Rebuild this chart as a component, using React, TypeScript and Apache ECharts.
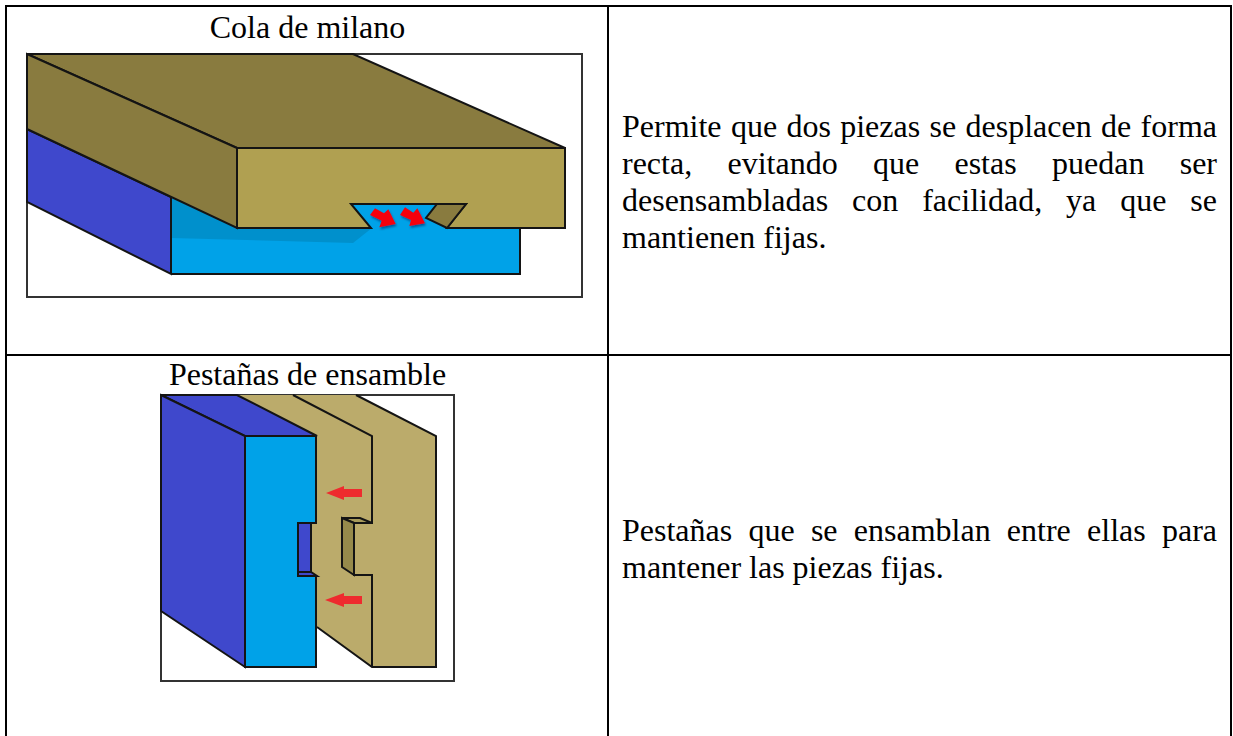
import React, { useEffect, useRef } from "react";
import * as echarts from "echarts";

const FONT = '"Liberation Serif", "Times New Roman", serif';
const FONT_SIZE = 32;
const CENTRAL = 10.8;

const titleTop = "Cola de milano";
const titleBottom = "Pestañas de ensamble";
const bodyTop = [
  "Permite que dos piezas se desplacen de forma",
  "recta, evitando que estas puedan ser",
  "desensambladas con facilidad, ya que se",
  "mantienen fijas.",
];
const bodyBottom = [
  "Pestañas que se ensamblan entre ellas para",
  "mantener las piezas fijas.",
];

type P = number[][];
const INK = "#141414";
const poly = (points: P, fill: string, stroke: string | null = INK, lineWidth = 2, extra: any = {}) => ({
  type: "polygon",
  shape: { points },
  style: { fill, stroke: stroke ?? "none", lineWidth: stroke ? lineWidth : 0, lineJoin: "miter", ...extra },
});
const pline = (points: P) => ({
  type: "polyline",
  shape: { points },
  style: { fill: "none", stroke: INK, lineWidth: 2 },
});
const bar = (x: number, y: number, width: number, height: number) => ({
  type: "rect",
  shape: { x, y, width, height },
  style: { fill: "#000" },
});
const text = (s: string, x: number, baseline: number, align = "left") => ({
  type: "text",
  x,
  y: baseline - CENTRAL,
  style: { text: s, x: 0, y: 0, fill: "#000", font: `${FONT_SIZE}px ${FONT}`, textAlign: align, textVerticalAlign: "middle" },
});

function justified(lines: string[], firstBaseline: number, step: number) {
  const ctx = document.createElement("canvas").getContext("2d")!;
  ctx.font = `${FONT_SIZE}px "Liberation Serif"`;
  const left = 622;
  const right = 1217;
  const out: any[] = [];
  lines.forEach((l, i) => {
    const y = firstBaseline + i * step;
    if (i === lines.length - 1) {
      out.push(text(l, left, y));
      return;
    }
    const words = l.split(" ");
    const widths = words.map((w) => ctx.measureText(w).width);
    const sum = widths.reduce((a, b) => a + b, 0);
    const gap = (right - left - sum) / (words.length - 1);
    let x = left;
    words.forEach((w, k) => {
      out.push(text(w, x, y));
      x += widths[k] + gap;
    });
  });
  return out;
}

function figureTop() {
  const DARK = "#897b3f";
  const LIGHT = "#b0a051";
  const BLUE = "#3f48cc";
  const CYAN = "#00a2e8";
  const shadow = { shadowBlur: 2, shadowColor: "rgba(0,0,60,0.45)", shadowOffsetX: 1, shadowOffsetY: 2 };
  const a = (pts: P) => pts.map(([x, y]) => [330 + x / 3, 190 + y / 3]);
  return [
    { type: "rect", shape: { x: 27, y: 54, width: 555, height: 243 }, style: { fill: "#fff", stroke: "#333", lineWidth: 2 } },
    poly([[171, 197], [237, 228], [351, 204], [466, 204], [520, 228], [520, 274], [171, 274]], CYAN, null),
    poly([[171, 197], [237, 228], [372, 228], [353, 243], [171, 238]], "#0090cc", null),
    pline([[447, 228], [520, 228], [520, 274], [171, 274]]),
    poly([[27, 129], [171, 197], [171, 274], [27, 202]], BLUE),
    poly([[27, 54], [353, 54], [565, 148], [237, 148]], DARK),
    poly([[27, 54], [237, 148], [237, 228], [27, 129]], DARK),
    poly([[237, 148], [565, 148], [565, 228], [447, 228], [466, 204], [351, 204], [371, 228], [237, 228]], LIGHT),
    poly([[437, 204], [466, 204], [447, 228], [426, 218]], DARK),
    poly(a([[120, 75], [135, 55], [162, 70], [175, 58], [197, 102], [148, 112], [155, 92]]), "#f5000f", null, 0, shadow),
    poly(a([[210, 75], [225, 52], [250, 68], [262, 55], [285, 100], [238, 108], [243, 90]]), "#f5000f", null, 0, shadow),
  ];
}

function figureBottom() {
  const OLIVE = "#bbab6b";
  const TAB = "#968a4b";
  const BLUE = "#3f48cc";
  const CYAN = "#00a2e8";
  const RED = "#ee2b2e";
  return [
    { type: "rect", shape: { x: 161, y: 395, width: 293, height: 286 }, style: { fill: "#fff", stroke: "#333", lineWidth: 2 } },
    poly([[237, 395], [356, 395], [436, 436], [436, 667], [372, 667], [317, 627], [300, 627], [300, 436]], OLIVE, null),
    pline([[356, 395], [436, 436], [436, 667], [372, 667], [317, 627]]),
    pline([[293, 395], [372, 436], [372, 523], [354, 523], [354, 575], [372, 575], [372, 667]]),
    poly([[342, 518], [360, 518], [372, 523], [354, 523]], "#a89b5b"),
    poly([[342, 518], [354, 523], [354, 575], [342, 567]], TAB),
    poly([[161, 395], [237, 395], [317, 436], [245, 436]], BLUE),
    poly([[161, 395], [245, 436], [245, 667], [161, 611]], BLUE),
    poly([[245, 436], [316, 436], [316, 523], [298, 523], [298, 576], [316, 576], [316, 667], [245, 667]], CYAN),
    poly([[298, 523], [311, 523], [311, 572], [298, 572]], BLUE),
    poly([[298, 572], [311, 572], [317, 576], [298, 576]], BLUE),
    poly([[326, 493], [344, 486], [344, 489], [362, 489], [362, 497], [344, 497], [344, 500]], RED, null),
    poly([[325, 600], [344, 593], [344, 596], [362, 596], [362, 604], [344, 604], [344, 607]], RED, null),
  ];
}

export default function App() {
  const ref = useRef<HTMLDivElement>(null);
  useEffect(() => {
    const chart = echarts.init(ref.current!, null, { renderer: "svg" });
    chart.setOption({
      animation: false,
      backgroundColor: "#fff",
      graphic: {
        elements: [
          ...figureTop(),
          ...figureBottom(),
          bar(5, 5, 1227, 2),
          bar(5, 354, 1227, 2),
          bar(5, 5, 2, 731),
          bar(607, 5, 2, 731),
          bar(1230, 5, 2, 731),
          text(titleTop, 307.5, 38, "center"),
          text(titleBottom, 307.5, 385, "center"),
          ...justified(bodyTop, 137, 37),
          ...justified(bodyBottom, 541, 37),
        ],
      },
    });
    return () => chart.dispose();
  }, []);
  return <div ref={ref} style={{ position: "fixed", left: 0, top: 0, width: 1233, height: 736 }} />;
}
